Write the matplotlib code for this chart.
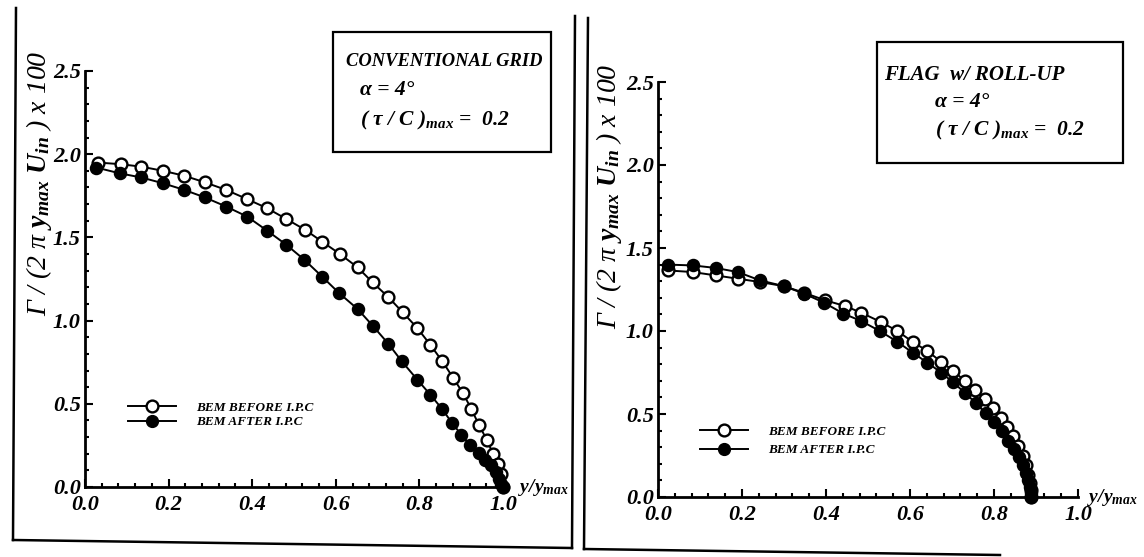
import matplotlib
matplotlib.use("Agg")
import matplotlib.pyplot as plt
from matplotlib.ticker import MultipleLocator, FormatStrFormatter
from matplotlib.lines import Line2D
from matplotlib.patches import Rectangle

# ---------------- data ----------------
# Left panel: conventional grid
conv_before_x = [0.03, 0.085, 0.135, 0.187, 0.238, 0.288, 0.338, 0.388, 0.436, 0.482,
                 0.527, 0.567, 0.61, 0.652, 0.688, 0.726, 0.76, 0.795, 0.826, 0.855,
                 0.881, 0.904, 0.924, 0.942, 0.961, 0.976, 0.988, 0.995, 1.0]
conv_before_y = [1.95, 1.94, 1.925, 1.90, 1.87, 1.83, 1.785, 1.73, 1.675, 1.61,
                 1.545, 1.475, 1.40, 1.32, 1.23, 1.14, 1.05, 0.955, 0.855, 0.755,
                 0.655, 0.565, 0.47, 0.375, 0.285, 0.20, 0.14, 0.08, 0.0]
conv_after_x = [0.027, 0.083, 0.135, 0.187, 0.238, 0.287, 0.338, 0.388, 0.436, 0.482,
                0.525, 0.567, 0.608, 0.652, 0.688, 0.726, 0.758, 0.795, 0.826, 0.854,
                0.878, 0.90, 0.922, 0.942, 0.958, 0.972, 0.983, 0.991, 0.996, 1.0]
conv_after_y = [1.92, 1.885, 1.86, 1.825, 1.785, 1.74, 1.685, 1.625, 1.54, 1.455,
                1.365, 1.265, 1.165, 1.07, 0.97, 0.86, 0.755, 0.645, 0.555, 0.47,
                0.385, 0.315, 0.25, 0.205, 0.165, 0.13, 0.09, 0.05, 0.02, 0.0]

# Right panel: flag wake with roll-up
flag_before_x = [0.023, 0.083, 0.137, 0.19, 0.243, 0.30, 0.348, 0.398, 0.446, 0.484,
                 0.53, 0.57, 0.606, 0.641, 0.674, 0.703, 0.73, 0.755, 0.778, 0.798,
                 0.816, 0.832, 0.846, 0.858, 0.868, 0.876, 0.882, 0.886, 0.888, 0.889]
flag_before_y = [1.365, 1.355, 1.335, 1.315, 1.295, 1.27, 1.23, 1.185, 1.15, 1.11,
                 1.055, 1.0, 0.935, 0.88, 0.815, 0.76, 0.70, 0.645, 0.59, 0.535,
                 0.475, 0.42, 0.365, 0.31, 0.25, 0.19, 0.135, 0.085, 0.04, 0.0]
flag_after_x = [0.023, 0.083, 0.137, 0.19, 0.243, 0.30, 0.348, 0.396, 0.441, 0.484,
                0.528, 0.57, 0.606, 0.641, 0.674, 0.703, 0.732, 0.757, 0.78, 0.80,
                0.818, 0.834, 0.848, 0.859, 0.868, 0.875, 0.881, 0.885, 0.888, 0.889]
flag_after_y = [1.40, 1.395, 1.38, 1.355, 1.305, 1.27, 1.225, 1.17, 1.105, 1.06,
                1.0, 0.935, 0.87, 0.81, 0.75, 0.69, 0.625, 0.565, 0.505, 0.45,
                0.395, 0.34, 0.29, 0.24, 0.19, 0.145, 0.10, 0.06, 0.025, 0.0]

legend_labels = ["BEM BEFORE I.P.C", "BEM AFTER I.P.C"]
box_titles = ["CONVENTIONAL GRID", "FLAG  w/ ROLL-UP"]
alpha_text = "α = 4°"
tau_text = r"( τ / C )$_{max}$ =  0.2"
ylabel_text = r"Γ / (2 π $y_{max}$ $U_{in}$ ) x 100"
xlabel_text = r"y/$y_{max}$"

# ---------------- style ----------------
plt.rcParams["font.family"] = ["Liberation Serif", "DejaVu Serif"]
plt.rcParams["font.weight"] = "bold"
plt.rcParams["font.style"] = "italic"
plt.rcParams["mathtext.fontset"] = "custom"
plt.rcParams["mathtext.rm"] = "Liberation Serif:bold:italic"
plt.rcParams["mathtext.it"] = "Liberation Serif:bold:italic"
plt.rcParams["mathtext.bf"] = "Liberation Serif:bold:italic"

W, H = 1144, 557
fig = plt.figure(figsize=(W / 100, H / 100), dpi=100)


def px(x, y):
    return x / W, 1 - y / H


def make_axes(l, r, b, t):
    x0, y0 = px(l, b)
    x1, y1 = px(r, t)
    ax = fig.add_axes([x0, y0, x1 - x0, y1 - y0])
    ax.set_xlim(0, 1.0)
    ax.set_ylim(0, 2.5)
    for s in ("top", "right"):
        ax.spines[s].set_visible(False)
    for s in ("left", "bottom"):
        ax.spines[s].set_linewidth(2)
    ax.xaxis.set_major_locator(MultipleLocator(0.2))
    ax.xaxis.set_minor_locator(MultipleLocator(0.04))
    ax.yaxis.set_major_locator(MultipleLocator(0.5))
    ax.yaxis.set_minor_locator(MultipleLocator(0.1))
    ax.xaxis.set_major_formatter(FormatStrFormatter("%.1f"))
    ax.yaxis.set_major_formatter(FormatStrFormatter("%.1f"))
    ax.tick_params(which="both", direction="in", width=1.5, labelsize=16)
    ax.tick_params(which="major", length=6)
    ax.tick_params(which="minor", length=3)
    ax.tick_params(axis="x", pad=6)
    ax.tick_params(axis="y", pad=3)
    ax.patch.set_visible(False)
    return ax


def draw_series(ax, xb, yb, xa, ya):
    ax.plot(xb, yb, "-o", color="black", lw=1.4, ms=8.5, mfc="white", mec="black",
            mew=1.7, clip_on=False, zorder=3)
    ax.plot(xa, ya, "-o", color="black", lw=1.4, ms=8.5, mfc="black", mec="black",
            mew=1.2, clip_on=False, zorder=4)


# Left panel
axL = make_axes(85, 503, 487, 71)
draw_series(axL, conv_before_x, conv_before_y, conv_after_x, conv_after_y)
# Right panel
axR = make_axes(658, 1078, 497, 82)
draw_series(axR, flag_before_x, flag_before_y, flag_after_x, flag_after_y)

for ax, lx, ly, xl in ((axL, -0.074, 0.73, 1.035), (axR, -0.081, 0.725, 1.022)):
    ax.set_ylabel(ylabel_text, fontsize=20)
    ax.yaxis.set_label_coords(lx, ly)
    ax.text(xl, 0.0, xlabel_text, transform=ax.transAxes, fontsize=14,
            ha="left", va="center")

# Legends
for ax, (lxp, lyp), spacing in ((axL, (128, 415), 0.15), (axR, (700, 441), 0.45)):
    h1 = Line2D([], [], color="black", lw=1.4, marker="o", ms=8.5, mfc="white",
                mec="black", mew=1.7)
    h2 = Line2D([], [], color="black", lw=1.4, marker="o", ms=8.5, mfc="black",
                mec="black")
    ax.legend([h1, h2], legend_labels, loc="center left",
              bbox_to_anchor=px(lxp, lyp), bbox_transform=fig.transFigure,
              frameon=False, handlelength=3.6, handletextpad=1.6,
              borderpad=0, borderaxespad=0, labelspacing=spacing,
              prop={"family": "Liberation Serif", "weight": "bold",
                    "style": "italic", "size": 9.5})

# Annotation boxes
for (bl, bt, br, bb), title, tsize, tx, ax_x, ty in (
        ((333, 32, 551, 152), box_titles[0], 13.3, 346, 360, (62, 90, 120)),
        ((877, 42, 1123, 163), box_titles[1], 15, 884, 935, (75, 102, 130))):
    x0, y0 = px(bl, bb)
    x1, y1 = px(br, bt)
    fig.add_artist(Rectangle((x0, y0), x1 - x0, y1 - y0, transform=fig.transFigure,
                             fill=False, lw=1.6, edgecolor="black"))
    fig.text(*px(tx, ty[0]), title, fontsize=tsize, ha="left", va="center")
    fig.text(*px(ax_x, ty[1]), alpha_text, fontsize=15.5, ha="left", va="center")
    fig.text(*px(ax_x, ty[2]), tau_text, fontsize=15.5, ha="left", va="center")

# Scanned page frame lines
frame_lines = [((16, 8), (13, 540)), ((13, 540), (572, 548)),
               ((575, 16), (572, 548)), ((588, 18), (584, 549)),
               ((584, 549), (1000, 555))]
for (xa, ya), (xb, yb) in frame_lines:
    p, q = px(xa, ya), px(xb, yb)
    fig.add_artist(Line2D([p[0], q[0]], [p[1], q[1]], transform=fig.transFigure,
                          color="black", lw=1.8))

fig.savefig("out.png", dpi=100)
